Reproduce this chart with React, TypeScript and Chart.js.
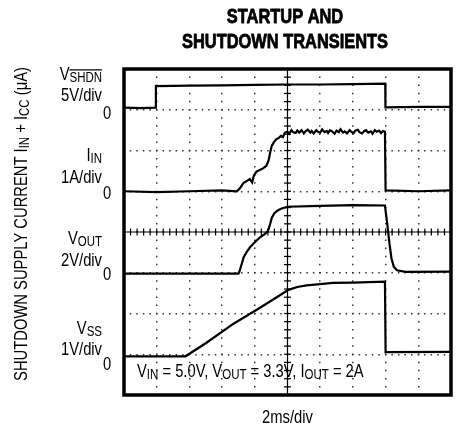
import React, { useEffect, useRef } from 'react';
import { Chart, registerables } from 'chart.js';
Chart.register(...registerables);

// Axis ranges in oscilloscope divisions (time: 2ms/div, 10 divs; 8 vertical divs)
const X_MIN = 0;
const X_MAX = 10;
const Y_MIN = 0;
const Y_MAX = 8;

const titleLines = ['STARTUP AND', 'SHUTDOWN TRANSIENTS'];
const xTitle = '2ms/div';
const divLabels = ['5V/div', '1A/div', '2V/div', '1V/div'];

// V_SHDN trace (divisions)
const vshdnX = [0, 0.5, 0.97, 0.975, 2, 3, 4, 5, 6, 7, 7.99, 7.995, 9, 10];
const vshdnY = [7.05, 7.04, 7.05, 7.58, 7.59, 7.6, 7.61, 7.62, 7.62, 7.63, 7.64, 7.06, 7.07, 7.07];

// I_IN trace
const iinX = [0, 1, 2, 3, 3.45, 3.55, 3.65, 3.75, 3.85, 3.92, 3.97, 4.05, 4.15, 4.25, 4.35, 4.42, 4.47, 4.52, 4.58, 4.66, 4.72, 4.8, 4.86, 4.92,
  5.0, 5.05, 5.12, 5.17, 5.25, 5.3, 5.36, 5.43, 5.5, 5.55, 5.62, 5.7, 5.74, 5.8, 5.88, 5.93, 6.0, 6.06, 6.13, 6.2, 6.24, 6.3, 6.38, 6.44, 6.5,
  6.57, 6.62, 6.7, 6.75, 6.82, 6.9, 6.95, 7.02, 7.08, 7.15, 7.2, 7.28, 7.35, 7.4, 7.47, 7.55, 7.6, 7.67, 7.73, 7.8, 7.86, 7.92, 7.98, 8.0, 9, 10];
const iinY = [5.0, 4.98, 5.0, 5.02, 5.0, 5.08, 5.2, 5.25, 5.3, 5.22, 5.38, 5.48, 5.52, 5.56, 5.62, 5.75, 5.95, 6.12, 6.2, 6.28, 6.3, 6.36, 6.33, 6.44,
  6.46, 6.41, 6.5, 6.45, 6.43, 6.49, 6.44, 6.5, 6.42, 6.47, 6.51, 6.44, 6.48, 6.42, 6.5, 6.46, 6.44, 6.52, 6.45, 6.48, 6.43, 6.5, 6.46, 6.41, 6.49,
  6.45, 6.52, 6.44, 6.47, 6.42, 6.5, 6.46, 6.43, 6.49, 6.51, 6.45, 6.42, 6.48, 6.5, 6.44, 6.47, 6.41, 6.5, 6.46, 6.49, 6.43, 6.48, 6.46, 5.02, 5.0, 5.02];

// V_OUT trace
const voutX = [0, 2, 3.5, 3.54, 3.66, 3.76, 3.86, 4.0, 4.16, 4.3, 4.4, 4.47, 4.52, 4.6, 4.7, 4.8, 5.0, 6, 7, 7.98, 8.05, 8.12, 8.18, 8.25, 8.35, 8.6, 10];
const voutY = [2.98, 2.98, 2.98, 3.05, 3.38, 3.52, 3.63, 3.75, 3.87, 3.95, 4.02, 4.2, 4.35, 4.46, 4.53, 4.57, 4.62, 4.64, 4.66, 4.65, 4.2, 3.7, 3.35, 3.15, 3.06, 3.02, 3.03];

// V_SS trace
const vssX = [0, 1.88, 2.5, 3.35, 4.16, 4.67, 5.03, 5.3, 5.58, 6.0, 6.39, 7.0, 7.98, 8.0, 10];
const vssY = [0.95, 0.95, 1.27, 1.75, 2.14, 2.4, 2.58, 2.65, 2.69, 2.72, 2.75, 2.76, 2.78, 1.05, 1.06];

// graticule centre axes
const CENTER_X = 5;
const CENTER_Y = 4;
const MINOR = 0.2;

const FONT = "'Liberation Sans', Arial, sans-serif";
const SX = 0.82; // horizontal condensing to mimic a condensed face

type Part = { t: string; sub?: boolean; over?: boolean };

function drawRich(ctx: CanvasRenderingContext2D, parts: Part[], x: number, y: number, align: 'left' | 'right' | 'center', size: number, subSize: number, subDy: number, bold = false, heavy = 0) {
  const f = (s: number) => `${bold ? 'bold ' : ''}${s}px ${FONT}`;
  const widths = parts.map((p) => {
    ctx.font = f(p.sub ? subSize : size);
    return ctx.measureText(p.t).width * SX;
  });
  const total = widths.reduce((a, b) => a + b, 0);
  let cx = align === 'left' ? x : align === 'right' ? x - total : x - total / 2;
  ctx.textAlign = 'left';
  ctx.textBaseline = 'alphabetic';
  parts.forEach((p, i) => {
    ctx.font = f(p.sub ? subSize : size);
    const yy = y + (p.sub ? subDy : 0);
    ctx.save();
    ctx.translate(cx, yy);
    ctx.scale(SX, 1);
    ctx.fillText(p.t, 0, 0);
    if (heavy > 0) {
      ctx.lineWidth = heavy;
      ctx.lineJoin = 'round';
      ctx.strokeText(p.t, 0, 0);
    }
    ctx.restore();
    if (p.over) {
      ctx.beginPath();
      ctx.lineWidth = 1.2;
      ctx.moveTo(cx, yy - subSize * 0.86);
      ctx.lineTo(cx + widths[i], yy - subSize * 0.86);
      ctx.stroke();
    }
    cx += widths[i];
  });
}

const pts = (xs: number[], ys: number[]) => xs.map((x, i) => ({ x, y: ys[i] }));

const scopePlugin = {
  id: 'scopeText',
  afterDraw(chart: any) {
    const ctx: CanvasRenderingContext2D = chart.ctx;
    const a = chart.chartArea;
    ctx.save();
    ctx.strokeStyle = '#000';
    ctx.fillStyle = '#000';
    // frame
    ctx.lineWidth = 3.5;
    ctx.strokeRect(a.left, a.top, a.right - a.left, a.bottom - a.top);

    // title
    drawRich(ctx, [{ t: titleLines[0] }], 285, 23, 'center', 20, 14, 0, true, 0.8);
    drawRich(ctx, [{ t: titleLines[1] }], 285, 48, 'center', 20, 14, 0, true, 0.8);

    // x title
    drawRich(ctx, [{ t: xTitle }], (a.left + a.right) / 2, 423, 'center', 18, 14, 0);

    // channel labels
    const names: Part[][] = [
      [{ t: 'V' }, { t: 'SHDN', sub: true, over: true }],
      [{ t: 'I' }, { t: 'IN', sub: true }],
      [{ t: 'V' }, { t: 'OUT', sub: true }],
      [{ t: 'V' }, { t: 'SS', sub: true }],
    ];
    const nameBase = [80, 161, 244, 334];
    const divBase = [101, 183, 266, 355];
    const zeroBase = [119, 199, 280, 370];
    for (let i = 0; i < 4; i++) {
      drawRich(ctx, names[i], 102, nameBase[i], 'right', 18, 14, 2);
      drawRich(ctx, [{ t: divLabels[i] }], 102, divBase[i], 'right', 18, 14, 0);
      drawRich(ctx, [{ t: '0' }], 103, zeroBase[i], 'left', 18, 14, 0);
    }

    // rotated y title
    ctx.save();
    ctx.translate(27, 224);
    ctx.rotate(-Math.PI / 2);
    drawRich(ctx, [
      { t: 'SHUTDOWN SUPPLY CURRENT I' }, { t: 'IN', sub: true }, { t: ' + I' }, { t: 'CC', sub: true }, { t: ' (μA)' },
    ], 0, 0, 'center', 18, 14, 2);
    ctx.restore();

    // annotation
    drawRich(ctx, [
      { t: 'V' }, { t: 'IN', sub: true }, { t: ' = 5.0V, V' }, { t: 'OUT', sub: true }, { t: ' = 3.3V, I' }, { t: 'OUT', sub: true }, { t: ' = 2A' },
    ], 137, 377, 'left', 18, 14, 2);
    ctx.restore();
  },
};

export default function App() {
  const ref = useRef<HTMLCanvasElement>(null);
  useEffect(() => {
    if (!ref.current) return;
    const vTicks: { x: number; y: number }[] = [];
    for (let v = Y_MIN; v <= Y_MAX + 1e-9; v += MINOR) vTicks.push({ x: CENTER_X, y: v });
    const hTicks: { x: number; y: number }[] = [];
    for (let v = X_MIN; v <= X_MAX + 1e-9; v += MINOR) hTicks.push({ x: v, y: CENTER_Y });

    const trace = (data: { x: number; y: number }[]) => ({
      data,
      borderColor: '#000',
      borderWidth: 2.2,
      pointRadius: 0,
      tension: 0,
      fill: false,
    });

    const chart = new Chart(ref.current, {
      type: 'line',
      data: {
        datasets: [
          { data: [{ x: CENTER_X, y: Y_MIN }, { x: CENTER_X, y: Y_MAX }], borderColor: '#000', borderWidth: 1.2, pointRadius: 0 },
          { data: [{ x: X_MIN, y: CENTER_Y }, { x: X_MAX, y: CENTER_Y }], borderColor: '#000', borderWidth: 1.2, pointRadius: 0 },
          { data: vTicks, showLine: false, pointStyle: 'line', pointRadius: 3.5, pointBorderWidth: 1.2, borderColor: '#000', pointRotation: 0 },
          { data: hTicks, showLine: false, pointStyle: 'line', pointRadius: 3.5, pointBorderWidth: 1.2, borderColor: '#000', pointRotation: 90 },
          trace(pts(vshdnX, vshdnY)),
          trace(pts(iinX, iinY)),
          trace(pts(voutX, voutY)),
          trace(pts(vssX, vssY)),
        ] as any,
      },
      options: {
        animation: false,
        responsive: false,
        events: [],
        layout: { padding: { left: 124, right: 6, top: 69, bottom: 34 } },
        plugins: { legend: { display: false }, tooltip: { enabled: false }, title: { display: false } },
        scales: {
          x: {
            type: 'linear', min: X_MIN, max: X_MAX,
            ticks: { display: false, stepSize: 1 },
            grid: { color: '#333', lineWidth: 1.5, drawTicks: false },
            border: { display: false, dash: [1.5, 6.65], dashOffset: 0.75 },
            afterFit: (s: any) => { s.height = 0; },
          },
          y: {
            type: 'linear', min: Y_MIN, max: Y_MAX,
            ticks: { display: false, stepSize: 1 },
            grid: { color: '#333', lineWidth: 1.5, drawTicks: false },
            border: { display: false, dash: [1.5, 5.04], dashOffset: 0.75 },
            afterFit: (s: any) => { s.width = 0; },
          },
        },
      } as any,
      plugins: [scopePlugin],
    });
    return () => chart.destroy();
  }, []);
  return (
    <div style={{ position: 'absolute', left: 0, top: 0, width: 457, height: 429, background: '#fff' }}>
      <canvas ref={ref} width={457} height={429} style={{ display: 'block' }} />
    </div>
  );
}
